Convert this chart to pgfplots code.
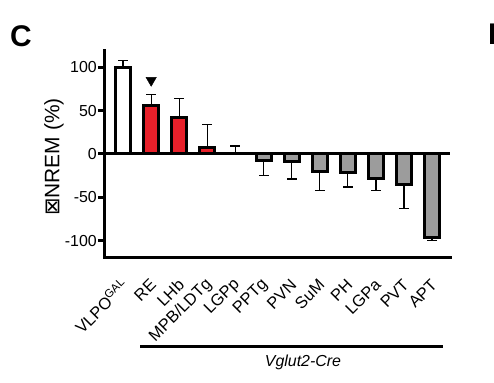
\documentclass[border=0pt]{standalone}
\usepackage{pgfplots}
\pgfplotsset{compat=1.18}
\usepackage{fontspec}
\setmainfont{Liberation Sans}
\newfontfamily\djv{DejaVu Sans}
\definecolor{barred}{HTML}{E8202A}
\definecolor{bargray}{HTML}{9C9C9C}
\begin{document}
\begin{tikzpicture}[x=1bp,y=1bp]
\useasboundingbox (0,0) rectangle (494,-382);
\node[font=\fontsize{30}{30}\selectfont\bfseries, anchor=center] at (21,-36) {C};
\node[font=\fontsize{30}{30}\selectfont\bfseries, anchor=west, inner sep=0pt] at (488,-34) {E};
\begin{axis}[
  at={(104bp,-257bp)}, anchor=south west,
  scale only axis, width=346bp, height=207bp,
  xmin=-0.68, xmax=11.64, ymin=-119, ymax=120,
  axis x line*=bottom, axis y line*=left,
  axis line style={line width=3bp, line cap=rect},
  ytick={-100,-50,0,50,100},
  yticklabels={-100,-50,0,50,100},
  tick align=outside,
  major tick length=6bp,
  ytick style={line width=3bp, black},
  yticklabel style={font=\fontsize{16}{16}\selectfont, inner sep=1bp},
  xtick={0,...,11},
  xticklabels={VLPO\textsuperscript{GAL},RE,LHb,MPB/LDTg,LGPp,PPTg,PVN,SuM,PH,LGPa,PVT,APT},
  xtick style={draw=none},
  xticklabel style={font=\fontsize{16.5}{16.5}\selectfont, yshift=-19bp, xshift=2bp, rotate=45, anchor=east, inner sep=0pt},
  clip=false,
  error bars/error bar style={line width=1.3bp, black},
  error bars/error mark options={rotate=90, line width=1.3bp, black, mark size=5bp},
]
% zero line
\addplot[line width=3bp, black, no marks] coordinates {(-0.68,0) (11.64,0)};
% VLPO (white)
\addplot[ybar, bar shift=0pt, bar width=15bp, draw=black, line width=3bp, fill=white,
  error bars/.cd, y dir=plus, y explicit]
  coordinates {(0,100) +- (0,8)};
% red bars
\addplot[ybar, bar shift=0pt, bar width=15bp, draw=black, line width=3bp, fill=barred,
  error bars/.cd, y dir=plus, y explicit]
  coordinates {(1,56) +- (0,12.5) (2,42) +- (0,22) (3,7) +- (0,27)};
% LGPp
\addplot[ybar, bar shift=0pt, bar width=15bp, draw=none, fill=none,
  error bars/.cd, y dir=plus, y explicit]
  coordinates {(4,0.5) +- (0,8.5)};
% gray bars
\addplot[ybar, bar shift=0pt, bar width=15bp, draw=black, line width=3bp, fill=bargray,
  error bars/.cd, y dir=minus, y explicit]
  coordinates {(5,-7) +- (0,17.5) (6,-9) +- (0,20) (7,-20) +- (0,22) (8,-22) +- (0,16)
               (9,-28.5) +- (0,13.5) (10,-35) +- (0,28) (11,-97) +- (0,3)};
% triangle marker
\addplot[only marks, mark=triangle*, mark size=6bp, mark options={rotate=180, fill=black, draw=black}]
  coordinates {(1,85)};
\end{axis}
\node[rotate=90, font=\fontsize{21}{21}\selectfont, anchor=center] at (54,-157) {{\djv ⊠}NREM (\%)};
\draw[line width=3bp] (140,-346) -- (443,-346);
\node[font=\fontsize{16}{16}\selectfont\itshape] at (303,-362) {Vglut2-Cre};
\end{tikzpicture}
\end{document}
